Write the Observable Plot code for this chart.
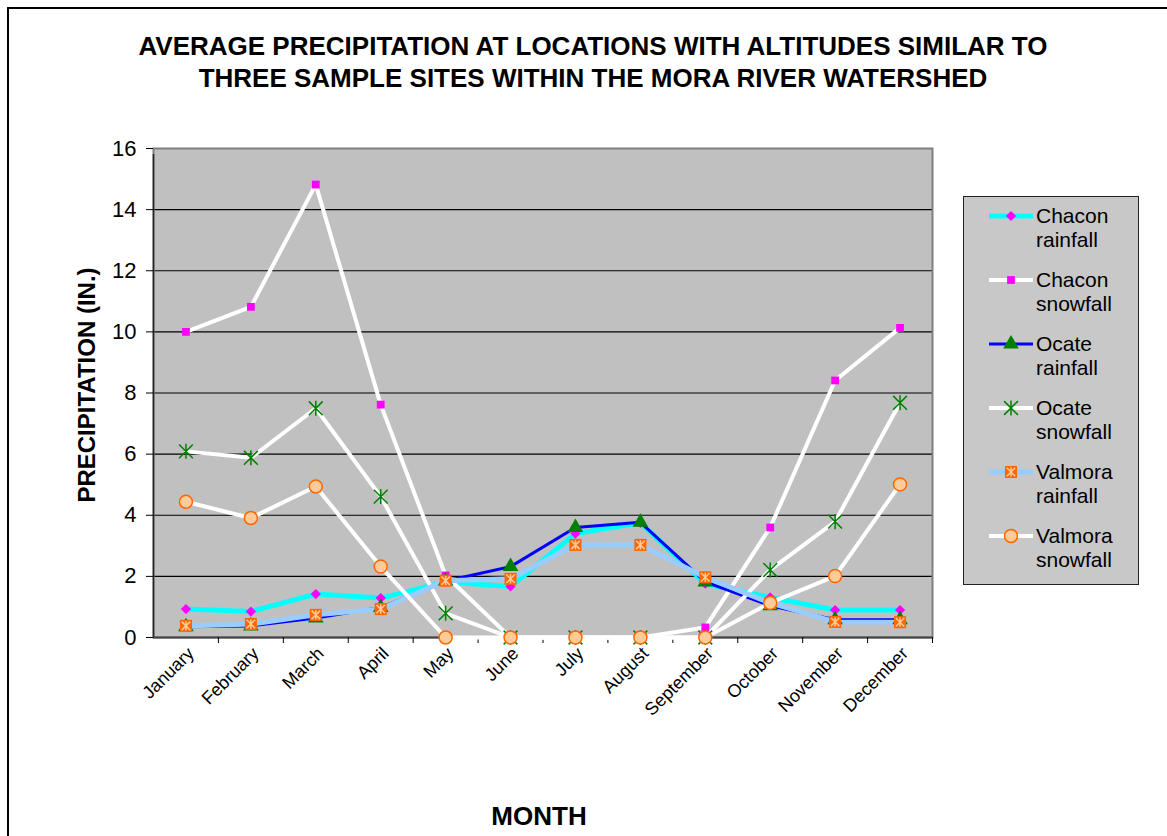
<!DOCTYPE html>
<html>
<head>
<meta charset="utf-8">
<script src="https://cdn.jsdelivr.net/npm/d3@7"></script>
<script src="https://cdn.jsdelivr.net/npm/@observablehq/plot@0.6"></script>
<style>
  html, body { margin: 0; padding: 0; background: #fff; }
  #wrap { position: relative; width: 1167px; height: 836px; overflow: hidden; font-family: Arial, "Liberation Sans", sans-serif; color: #000; }
  #border { position: absolute; left: 7px; top: 7px; width: 1300px; height: 1000px; border-left: 2px solid #000; border-top: 2px solid #000; }
  #chart { position: absolute; left: 0; top: 0; }
  #title { position: absolute; left: 43px; width: 1100px; top: 30px; text-align: center; font-weight: bold; font-size: 26px; line-height: 32px; white-space: nowrap; }
  #ylabel { position: absolute; left: 87px; top: 385px; transform: translate(-50%, -50%) rotate(-90deg); white-space: nowrap; font-weight: bold; font-size: 24px; }
  #xlabel { position: absolute; left: 539px; top: 816px; transform: translate(-50%, -50%); white-space: nowrap; font-weight: bold; font-size: 26px; }
  #legend { position: absolute; left: 963px; top: 196px; width: 176px; height: 389px; box-sizing: border-box; background: #C8C8C8; border: 1.5px solid #222; }
  .item { position: absolute; left: 0; width: 170px; height: 50px; }
  .item svg { position: absolute; left: 22px; top: 0; }
  .item .txt { position: absolute; left: 72px; top: 0; font-size: 21px; line-height: 24px; white-space: nowrap; }
</style>
</head>
<body>
<div id="wrap">
  <div id="border"></div>
  <div id="chart"></div>
  <div id="title">AVERAGE PRECIPITATION AT LOCATIONS WITH ALTITUDES SIMILAR TO<br>THREE SAMPLE SITES WITHIN THE MORA RIVER WATERSHED</div>
  <div id="ylabel">PRECIPITATION (IN.)</div>
  <div id="xlabel">MONTH</div>
  <div id="legend"></div>
</div>
<script>
// ---- data ----
const months = ["January", "February", "March", "April", "May", "June", "July", "August", "September", "October", "November", "December"];
const chaconRainfall  = [0.93, 0.85, 1.42, 1.29, 1.82, 1.67, 3.40, 3.75, 1.76, 1.31, 0.90, 0.90];
const chaconSnowfall  = [10.0, 10.82, 14.82, 7.62, 2.03, 0, 0, 0, 0.33, 3.60, 8.41, 10.13];
const ocateRainfall   = [0.35, 0.38, 0.64, 0.98, 1.85, 2.32, 3.60, 3.77, 1.82, 1.04, 0.58, 0.58];
const ocateSnowfall   = [6.09, 5.88, 7.50, 4.61, 0.79, 0, 0, 0, 0, 2.21, 3.79, 7.68];
const valmoraRainfall = [0.38, 0.44, 0.74, 0.93, 1.86, 1.92, 3.03, 3.03, 1.97, 1.13, 0.51, 0.50];
const valmoraSnowfall = [4.44, 3.91, 4.94, 2.32, 0, 0, 0, 0, 0, 1.13, 2.01, 5.01];
const seriesNames = ["Chacon rainfall", "Chacon snowfall", "Ocate rainfall", "Ocate snowfall", "Valmora rainfall", "Valmora snowfall"];
const seriesValues = [chaconRainfall, chaconSnowfall, ocateRainfall, ocateSnowfall, valmoraRainfall, valmoraSnowfall];
const yTicks = [0, 2, 4, 6, 8, 10, 12, 14, 16];

// ---- styles ----
const starSymbol = {
  draw(ctx, size) {
    const r = Math.sqrt(size / Math.PI);
    const d = r * 0.92;
    ctx.moveTo(0, -r); ctx.lineTo(0, r);
    ctx.moveTo(-d, -d); ctx.lineTo(d, d);
    ctx.moveTo(-d, d); ctx.lineTo(d, -d);
  }
};
const styles = [
  {line: "#00FFFF", lw: 5, marks: [{symbol: "diamond2", r: 4.6, fill: "#FF00FF", stroke: "none"}]},
  {line: "#FFFFFF", lw: 4, marks: [{symbol: "square", r: 4.4, fill: "#FF00FF", stroke: "none"}]},
  {line: "#0000FF", lw: 3, marks: [{symbol: "triangle", r: 5.8, fill: "#008000", stroke: "none"}]},
  {line: "#FFFFFF", lw: 4, marks: [{symbol: starSymbol, r: 7.5, fill: "none", stroke: "#008000", sw: 1.5}]},
  {line: "#99CCFF", lw: 5, marks: [{symbol: "square", r: 6.8, fill: "#FF6600", stroke: "none"}, {symbol: starSymbol, r: 4.6, fill: "none", stroke: "#FFCC99", sw: 1.5}]},
  {line: "#FFFFFF", lw: 4, marks: [{symbol: "circle", r: 6.5, fill: "#FFCC99", stroke: "#FF6600", sw: 1.5}]}
];

const tidy = seriesNames.map((name, s) => months.map((m, i) => ({series: name, month: m, value: seriesValues[s][i]})));

const W = 1167, H = 836;
const plotLeft = 153, plotRight = 932, plotTop = 148, plotBottom = 637;
const half = (plotRight - plotLeft) / months.length / 2;

const chart = Plot.plot({
  width: W,
  height: H,
  marginLeft: plotLeft,
  marginRight: W - plotRight,
  marginTop: plotTop,
  marginBottom: H - plotBottom,
  style: {fontFamily: "Arial, 'Liberation Sans', sans-serif", color: "#000", background: "transparent", overflow: "visible"},
  x: {type: "point", domain: months, padding: 0.5, round: false},
  y: {domain: [0, 16]},
  marks: [
    Plot.frame({fill: "#C0C0C0"}),
    Plot.ruleY(yTicks.filter(t => t > 0 && t < 16), {stroke: "#000", strokeWidth: 1.2}),
    Plot.frame({stroke: "#7F7F7F", strokeWidth: 2}),
    Plot.ruleY([0], {stroke: "#444", strokeWidth: 2}),
    Plot.ruleX([months[0]], {dx: -half, y1: 0, y2: 16, insetBottom: -6, stroke: "#222", strokeWidth: 1.5}),
    Plot.axisY({ticks: yTicks, tickSize: 7, tickPadding: 10, fontSize: 22, label: null, tickFormat: d => String(d)}),
    Plot.axisX({tickSize: 6, tickFormat: () => "", dx: half, label: null}),
    Plot.axisX({tickSize: 0, tickPadding: 12, tickRotate: -45, fontSize: 18, label: null, dx: 5, dy: 1}),
    ...tidy.map((d, s) => Plot.line(d, {x: "month", y: "value", stroke: styles[s].line, strokeWidth: styles[s].lw, strokeLinejoin: "round"})),
    ...tidy.flatMap((d, s) => styles[s].marks.map(mk => Plot.dot(d, {
      x: "month", y: "value", symbol: mk.symbol, r: mk.r, fill: mk.fill, stroke: mk.stroke, strokeWidth: mk.sw || 1
    })))
  ]
});
document.getElementById("chart").appendChild(chart);

// ---- legend ----
const symbolType = s => typeof s === "object" ? s :
  ({diamond2: d3.symbolDiamond2, square: d3.symbolSquare, triangle: d3.symbolTriangle, circle: d3.symbolCircle})[s];
const legend = d3.select("#legend");
seriesNames.forEach((name, s) => {
  const item = legend.append("div").attr("class", "item").style("top", (7 + s * 64) + "px");
  const sv = item.append("svg").attr("width", 50).attr("height", 26);
  sv.append("line").attr("x1", 3).attr("x2", 47).attr("y1", 12).attr("y2", 12)
    .attr("stroke", styles[s].line).attr("stroke-width", styles[s].lw);
  styles[s].marks.forEach(mk => {
    sv.append("path").attr("transform", "translate(25,12)")
      .attr("d", d3.symbol(symbolType(mk.symbol), Math.PI * mk.r * mk.r)())
      .attr("fill", mk.fill).attr("stroke", mk.stroke).attr("stroke-width", mk.sw || 1);
  });
  const parts = name.split(" ");
  item.append("div").attr("class", "txt").html(parts[0] + "<br>" + parts.slice(1).join(" "));
});
</script>
</body>
</html>
